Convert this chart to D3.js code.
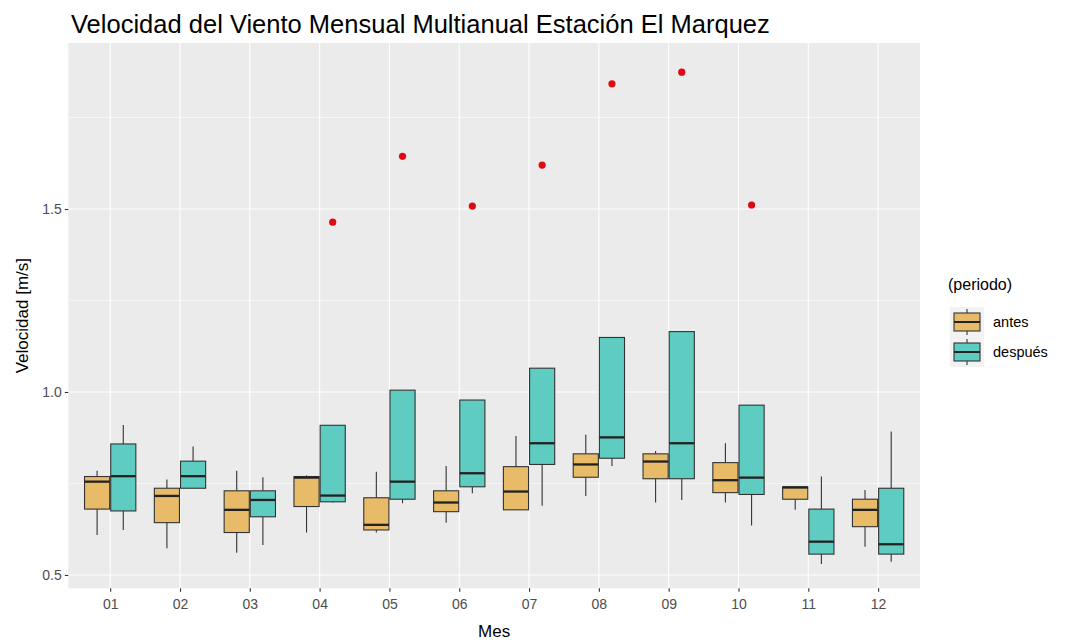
<!DOCTYPE html>
<html><head><meta charset="utf-8">
<script src="https://cdn.jsdelivr.net/npm/d3@7"></script>
<style>body{margin:0;background:#fff}svg{display:block;font-family:"Liberation Sans",Arial,sans-serif}</style>
</head><body><svg id="c" width="1066" height="642"></svg>
<script>
const months = ["01","02","03","04","05","06","07","08","09","10","11","12"];
const periods = ["antes","después"];
const yTicks = [0.5, 1.0, 1.5];
const yMinor = [0.75, 1.25, 1.75];
// antes: whisker low, Q1, median, Q3, whisker high
const antesLow  = [0.609,0.573,0.561,0.616,0.616,0.643,0.678,0.716,0.698,0.698,0.678,0.577];
const antesQ1   = [0.680,0.643,0.616,0.687,0.623,0.673,0.678,0.767,0.763,0.725,0.707,0.632];
const antesMed  = [0.755,0.716,0.678,0.766,0.637,0.698,0.728,0.802,0.810,0.759,0.739,0.678];
const antesQ3   = [0.769,0.737,0.730,0.769,0.711,0.730,0.796,0.831,0.831,0.807,0.741,0.707];
const antesHigh = [0.785,0.761,0.785,0.772,0.782,0.798,0.880,0.883,0.839,0.860,0.741,0.732];
// después
const despLow  = [0.623,0.737,0.582,0.698,0.696,0.723,0.689,0.798,0.705,0.635,0.530,0.536];
const despQ1   = [0.675,0.737,0.659,0.700,0.707,0.741,0.802,0.819,0.763,0.720,0.557,0.557];
const despMed  = [0.770,0.770,0.705,0.717,0.755,0.778,0.860,0.876,0.860,0.766,0.591,0.584];
const despQ3   = [0.858,0.811,0.730,0.909,1.005,0.978,1.065,1.149,1.165,0.964,0.680,0.737];
const despHigh = [0.910,0.851,0.767,0.909,1.005,0.978,1.065,1.149,1.165,0.964,0.769,0.892];
const outMonths = ["04","05","06","07","08","09","10"];
const outValues = [1.464,1.644,1.508,1.620,1.842,1.874,1.511];

const colors = {"antes":"#E7BB68","después":"#5ECCC0"};
const svg = d3.select("#c");
const P = {l:68.3, r:920, t:43, b:588.3};
const x = d3.scalePoint().domain(months).range([P.l,P.r]).padding(0.6);
const y = d3.scaleLinear().domain([0.4636,1.9536]).range([P.b,P.t]);
const step = x.step();
const bw = step*0.36, off = step*0.1875;

svg.append("rect").attr("x",P.l).attr("y",P.t).attr("width",P.r-P.l).attr("height",P.b-P.t).attr("fill","#EBEBEB");
const g = svg.append("g");
yMinor.forEach(v=>g.append("line").attr("x1",P.l).attr("x2",P.r).attr("y1",y(v)).attr("y2",y(v)).attr("stroke","#fff").attr("stroke-width",0.55));
yTicks.forEach(v=>g.append("line").attr("x1",P.l).attr("x2",P.r).attr("y1",y(v)).attr("y2",y(v)).attr("stroke","#fff").attr("stroke-width",1.1));
months.forEach(m=>g.append("line").attr("x1",x(m)).attr("x2",x(m)).attr("y1",P.t).attr("y2",P.b).attr("stroke","#fff").attr("stroke-width",1.1));

const series = [
  {p:"antes", low:antesLow,q1:antesQ1,med:antesMed,q3:antesQ3,high:antesHigh,dx:-off},
  {p:"después", low:despLow,q1:despQ1,med:despMed,q3:despQ3,high:despHigh,dx:off}
];
series.forEach(s=>{
  months.forEach((m,i)=>{
    const cx = x(m)+s.dx;
    g.append("line").attr("x1",cx).attr("x2",cx).attr("y1",y(s.high[i])).attr("y2",y(s.q3[i])).attr("stroke","#333").attr("stroke-width",1.1);
    g.append("line").attr("x1",cx).attr("x2",cx).attr("y1",y(s.q1[i])).attr("y2",y(s.low[i])).attr("stroke","#333").attr("stroke-width",1.1);
    g.append("rect").attr("x",cx-bw/2).attr("y",y(s.q3[i])).attr("width",bw).attr("height",y(s.q1[i])-y(s.q3[i]))
      .attr("fill",colors[s.p]).attr("stroke","#333").attr("stroke-width",1.1);
    g.append("line").attr("x1",cx-bw/2).attr("x2",cx+bw/2).attr("y1",y(s.med[i])).attr("y2",y(s.med[i])).attr("stroke","#222").attr("stroke-width",2.3);
  });
});
outMonths.forEach((m,i)=>{
  g.append("circle").attr("cx",x(m)+off).attr("cy",y(outValues[i])).attr("r",3.6).attr("fill","#DD0A14");
});

// axes
const xa = svg.append("g").attr("transform",`translate(0,${P.b})`).call(d3.axisBottom(x).tickSize(3.5).tickPadding(7));
const ya = svg.append("g").attr("transform",`translate(${P.l},0)`).call(d3.axisLeft(y).tickValues(yTicks).tickFormat(d3.format(".1f")).tickSize(3.5).tickPadding(3));
[xa,ya].forEach(a=>{a.select(".domain").remove();a.selectAll("line").attr("stroke","#333").attr("stroke-width",1.1);
  a.selectAll("text").attr("fill","#4D4D4D").style("font-size","14px").style("font-family","Liberation Sans, Arial, sans-serif");});

svg.append("text").attr("x",(P.l+P.r)/2).attr("y",637).attr("text-anchor","middle").attr("font-size",17).attr("fill","#000").text("Mes");
svg.append("text").attr("transform",`translate(28,${(P.t+P.b)/2}) rotate(-90)`).attr("text-anchor","middle").attr("font-size",17).attr("fill","#000").text("Velocidad [m/s]");
const title = svg.append("text").attr("x",71).attr("y",33).attr("font-size",21).attr("fill","#000").text("Velocidad del Viento Mensual Multianual Estación El Marquez");
const tw = title.node().getComputedTextLength();
title.attr("font-size",21*699/tw);

// legend
const L = svg.append("g");
L.append("text").attr("x",948).attr("y",290).attr("font-size",16).attr("fill","#000").text("(periodo)");
periods.forEach((p,i)=>{
  const cy = 322 + i*30, cx = 967;
  L.append("rect").attr("x",950).attr("y",cy-15).attr("width",34).attr("height",30).attr("fill","#F2F2F2");
  L.append("line").attr("x1",cx).attr("x2",cx).attr("y1",cy-13).attr("y2",cy+13).attr("stroke","#333").attr("stroke-width",1.1);
  L.append("rect").attr("x",954).attr("y",cy-9).attr("width",26).attr("height",18).attr("fill",colors[p]).attr("stroke","#333").attr("stroke-width",1.1);
  L.append("line").attr("x1",954).attr("x2",980).attr("y1",cy).attr("y2",cy).attr("stroke","#222").attr("stroke-width",2);
  L.append("text").attr("x",993).attr("y",cy+5).attr("font-size",14.5).attr("fill","#000").text(p);
});
</script></body></html>
